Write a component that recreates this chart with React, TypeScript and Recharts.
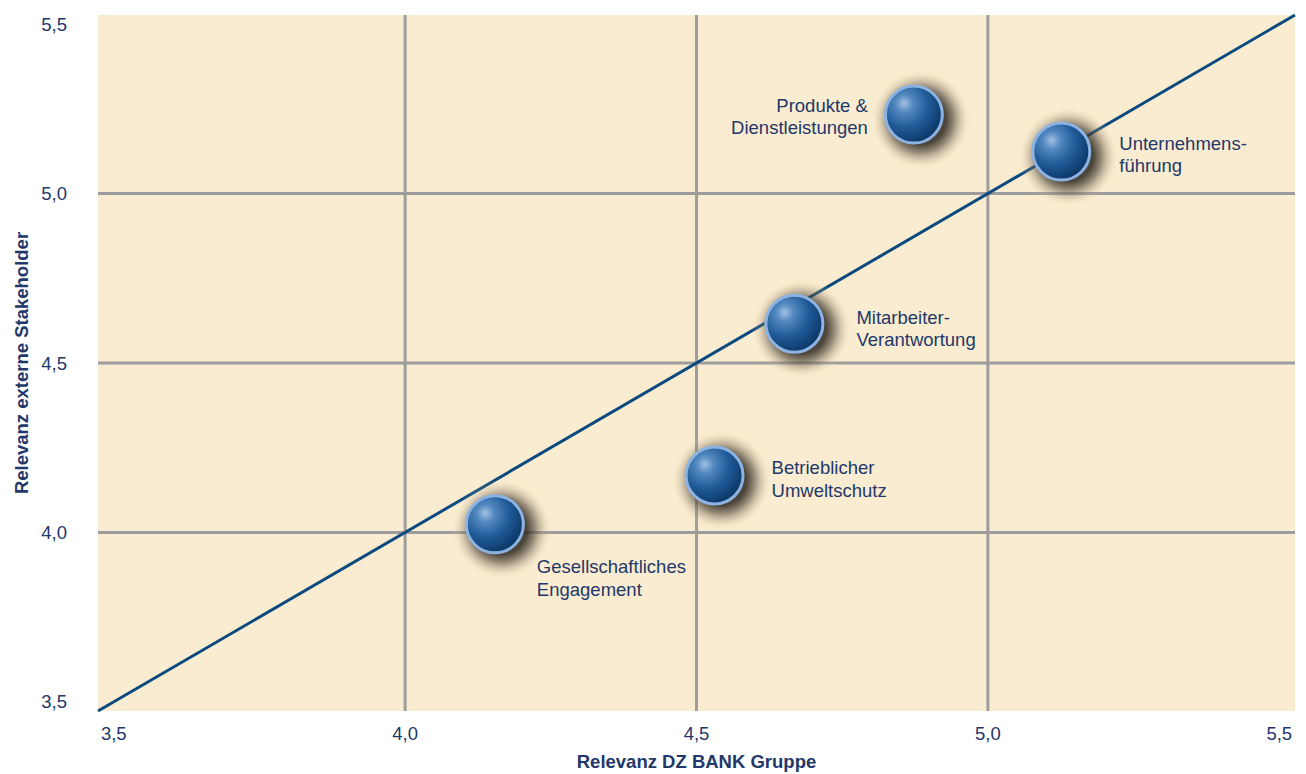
import { ScatterChart, Scatter, XAxis, YAxis, CartesianGrid, ReferenceLine } from 'recharts';

// Relevanz DZ BANK Gruppe (x) vs. Relevanz externe Stakeholder (y)
const TOPICS = [
  'Produkte & Dienstleistungen',
  'Unternehmensführung',
  'Mitarbeiter-Verantwortung',
  'Betrieblicher Umweltschutz',
  'Gesellschaftliches Engagement',
];
const LABEL_LINES = [
  ['Produkte &', 'Dienstleistungen'],
  ['Unternehmens-', 'führung'],
  ['Mitarbeiter-', 'Verantwortung'],
  ['Betrieblicher', 'Umweltschutz'],
  ['Gesellschaftliches', 'Engagement'],
];
const RELEVANZ_DZ = [4.873, 5.126, 4.668, 4.531, 4.154];
const RELEVANZ_EXTERN = [5.233, 5.124, 4.616, 4.168, 4.024];

const AXIS_DOMAIN = [3.473, 5.527];
const TICKS = [3.5, 4.0, 4.5, 5.0, 5.5];
const GRID_VALUES = [4.0, 4.5, 5.0];

const TEXT_COLOR = '#22386a';
const LINE_COLOR = '#0b4a7e';
const GRID_COLOR = '#9d9d9d';
const PLOT_BG = '#faecd0';
const FONT_SIZE = 18.5;

// label placement relative to the bubble centre
const LABEL_LAYOUT: Record<string, { dx: number; dy: number; anchor: 'start' | 'end' }> = {
  'Produkte & Dienstleistungen': { dx: -46, dy: -3, anchor: 'end' },
  'Unternehmensführung': { dx: 58, dy: -2, anchor: 'start' },
  'Mitarbeiter-Verantwortung': { dx: 62, dy: 0, anchor: 'start' },
  'Betrieblicher Umweltschutz': { dx: 57, dy: -1, anchor: 'start' },
  'Gesellschaftliches Engagement': { dx: 42, dy: 49, anchor: 'start' },
};

const data = TOPICS.map((name, i) => ({
  name,
  lines: LABEL_LINES[i],
  x: RELEVANZ_DZ[i],
  y: RELEVANZ_EXTERN[i],
}));

const fmt = (v: number) => v.toFixed(1).replace('.', ',');

const Bubble = (props: any) => {
  const { cx, cy, payload } = props;
  if (cx == null || cy == null) return null;
  const layout = LABEL_LAYOUT[payload.name];
  return (
    <g>
      <circle cx={cx + 7} cy={cy + 5} r={50} fill="url(#bubbleShadow)" />
      <circle cx={cx} cy={cy} r={28.5} fill="url(#bubbleFill)" stroke="#8db3e3" strokeWidth={3} />
      {payload.lines.map((line: string, i: number) => (
        <text
          key={line}
          x={cx + layout.dx}
          y={cy + layout.dy + i * 22.5}
          textAnchor={layout.anchor}
          fill={TEXT_COLOR}
          fontSize={FONT_SIZE}
        >
          {line}
        </text>
      ))}
    </g>
  );
};

export default function App() {
  return (
    <div style={{ fontFamily: '"Liberation Sans", Arial, Helvetica, sans-serif' }}>
      <style>{'body{margin:0}'}</style>
      <ScatterChart width={1306} height={774} margin={{ top: 15, right: 11, left: 0, bottom: 0 }}>
        <defs>
          <radialGradient id="bubbleFill" cx="35%" cy="33%" r="72%" fx="33%" fy="30%">
            <stop offset="0%" stopColor="#a3c0e2" />
            <stop offset="22%" stopColor="#5288c0" />
            <stop offset="58%" stopColor="#1f5a97" />
            <stop offset="100%" stopColor="#0a3462" />
          </radialGradient>
          <radialGradient id="bubbleShadow">
            <stop offset="50%" stopColor="#2e2820" stopOpacity={0.85} />
            <stop offset="65%" stopColor="#4a4236" stopOpacity={0.6} />
            <stop offset="80%" stopColor="#8a7e68" stopOpacity={0.32} />
            <stop offset="92%" stopColor="#c8b998" stopOpacity={0.12} />
            <stop offset="100%" stopColor="#faecd0" stopOpacity={0} />
          </radialGradient>
        </defs>
        <CartesianGrid fill={PLOT_BG} horizontal={false} vertical={false} />
        {GRID_VALUES.map((v) => (
          <ReferenceLine key={`v${v}`} x={v} stroke={GRID_COLOR} strokeWidth={3} />
        ))}
        {GRID_VALUES.map((v) => (
          <ReferenceLine key={`h${v}`} y={v} stroke={GRID_COLOR} strokeWidth={3} />
        ))}
        <ReferenceLine
          segment={[
            { x: AXIS_DOMAIN[0], y: AXIS_DOMAIN[0] },
            { x: AXIS_DOMAIN[1], y: AXIS_DOMAIN[1] },
          ]}
          stroke={LINE_COLOR}
          strokeWidth={3}
        />
        <XAxis
          type="number"
          dataKey="x"
          domain={AXIS_DOMAIN}
          ticks={TICKS}
          allowDataOverflow
          tickFormatter={fmt}
          axisLine={false}
          tickLine={false}
          tickSize={14}
          tickMargin={2}
          height={63}
          tick={{ fill: TEXT_COLOR, fontSize: FONT_SIZE }}
          label={{
            value: 'Relevanz DZ BANK Gruppe',
            position: 'insideBottom',
            offset: 6,
            fill: TEXT_COLOR,
            fontSize: FONT_SIZE,
            fontWeight: 'bold',
          }}
        />
        <YAxis
          type="number"
          dataKey="y"
          domain={AXIS_DOMAIN}
          ticks={TICKS}
          allowDataOverflow
          tickFormatter={fmt}
          axisLine={false}
          tickLine={false}
          tickSize={29}
          tickMargin={2}
          width={98}
          tick={{ fill: TEXT_COLOR, fontSize: FONT_SIZE }}
          label={{
            value: 'Relevanz externe Stakeholder',
            angle: -90,
            position: 'insideLeft',
            offset: 21,
            fill: TEXT_COLOR,
            fontSize: FONT_SIZE,
            fontWeight: 'bold',
            style: { textAnchor: 'middle' },
          }}
        />
        <Scatter data={data} shape={<Bubble />} isAnimationActive={false} />
      </ScatterChart>
    </div>
  );
}
